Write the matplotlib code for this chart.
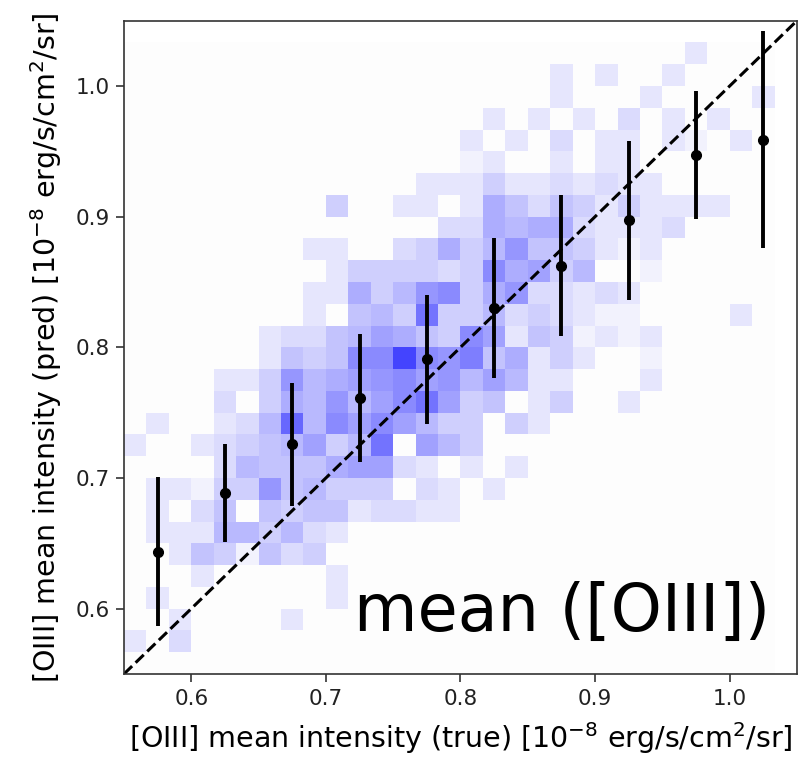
import numpy as np
import matplotlib
matplotlib.use("Agg")
import matplotlib.pyplot as plt
from matplotlib.colors import LinearSegmentedColormap

# binned means of predicted vs true intensity
bin_centers = [0.575, 0.625, 0.675, 0.725, 0.775, 0.825, 0.875, 0.925, 0.975, 1.025]
pred_mean = [0.6435, 0.6887, 0.7257, 0.7615, 0.7908, 0.8302, 0.8626, 0.8971, 0.9470, 0.9590]
pred_std = [0.057, 0.0376, 0.0469, 0.049, 0.0494, 0.0535, 0.0543, 0.0608, 0.0488, 0.083]

# 2d histogram counts, 29x29 bins of width 1/60 starting at 0.55
# rows listed from top (highest y) to bottom
hist_rows_top = [
    {25: 2},
    {19: 2, 21: 2, 24: 2},
    {19: 2, 23: 2, 28: 2},
    {16: 2, 18: 2, 20: 2, 22: 3, 24: 2, 26: 2},
    {15: 2, 17: 2, 19: 3, 21: 2, 22: 2, 24: 2, 25: 1, 27: 2},
    {15: 1, 16: 2, 19: 2, 21: 2, 22: 2},
    {13: 2, 14: 2, 15: 2, 16: 4, 17: 2, 18: 2, 19: 3, 20: 2, 21: 3, 22: 2, 23: 2},
    {9: 4, 12: 2, 13: 2, 15: 2, 16: 7, 17: 5, 18: 3, 19: 5, 20: 4, 21: 2, 22: 4,
     23: 2, 24: 2, 25: 2, 26: 2},
    {14: 3, 15: 3, 16: 7, 17: 6, 18: 7, 19: 7, 20: 3, 21: 2, 22: 2, 23: 2, 24: 3},
    {8: 2, 9: 2, 12: 3, 13: 4, 14: 7, 15: 4, 16: 6, 17: 9, 18: 5, 19: 5, 20: 4,
     21: 2, 22: 1, 23: 2},
    {9: 2, 10: 4, 11: 4, 12: 4, 13: 4, 14: 3, 15: 4, 16: 10, 17: 7, 18: 8, 19: 4,
     20: 6, 23: 1},
    {8: 2, 9: 2, 10: 7, 11: 4, 12: 6, 13: 9, 14: 10, 15: 4, 16: 7, 17: 9, 18: 3,
     19: 3, 20: 2, 21: 3, 22: 2},
    {8: 2, 10: 5, 11: 6, 12: 4, 13: 12, 14: 4, 15: 4, 16: 6, 17: 3, 18: 4, 19: 3,
     20: 2, 21: 1, 22: 1, 27: 2},
    {6: 2, 7: 3, 8: 3, 9: 5, 10: 6, 11: 8, 12: 7, 13: 5, 14: 4, 15: 10, 16: 8,
     17: 2, 18: 5, 19: 4, 20: 1, 21: 2, 22: 1, 23: 2},
    {6: 2, 7: 5, 8: 4, 9: 5, 10: 10, 11: 10, 12: 16, 13: 10, 14: 9, 15: 11, 16: 5,
     17: 7, 18: 2, 19: 4, 20: 2, 23: 1},
    {4: 2, 5: 2, 6: 4, 7: 9, 8: 6, 9: 7, 10: 8, 11: 9, 12: 10, 13: 8, 14: 9,
     15: 6, 16: 8, 17: 6, 18: 2, 19: 2, 23: 2},
    {4: 3, 6: 4, 7: 7, 8: 6, 9: 9, 10: 6, 11: 8, 12: 10, 13: 12, 14: 8, 15: 4,
     16: 5, 18: 2, 19: 4, 22: 2},
    {1: 2, 4: 2, 5: 3, 6: 6, 7: 13, 8: 6, 9: 10, 10: 8, 11: 10, 12: 8, 13: 6,
     14: 4, 15: 4, 17: 4, 18: 2},
    {0: 2, 3: 2, 4: 3, 5: 4, 6: 5, 7: 6, 8: 8, 9: 4, 10: 6, 11: 12, 13: 8, 14: 6, 15: 4},
    {4: 3, 5: 6, 6: 5, 7: 5, 8: 5, 9: 7, 10: 8, 11: 8, 12: 3, 13: 2, 15: 2, 17: 2},
    {1: 2, 2: 2, 3: 1, 4: 4, 5: 4, 6: 9, 7: 5, 8: 6, 9: 4, 10: 4, 11: 4, 13: 3,
     14: 2, 16: 2},
    {1: 2, 3: 3, 4: 5, 6: 5, 7: 4, 8: 5, 9: 5, 10: 2, 11: 3, 12: 3, 13: 2, 14: 2},
    {1: 2, 2: 2, 3: 2, 4: 6, 5: 6, 6: 4, 7: 6, 8: 3, 9: 2},
    {2: 2, 3: 5, 4: 4, 5: 1, 6: 5, 7: 3, 8: 4},
    {3: 2, 9: 2},
    {1: 2, 9: 2},
    {2: 2, 7: 2},
    {0: 2, 2: 3},
    {},
]

nbins = 29
edges = 0.55 + np.arange(nbins + 1) / 60.0
counts = np.zeros((nbins, nbins))
for i, row in enumerate(hist_rows_top):
    for col, val in row.items():
        counts[nbins - 1 - i, col] = val

cmap = LinearSegmentedColormap.from_list("wb", ["#fdfdfd", "#0000ff"])

fig = plt.figure(figsize=(8.12, 7.6), dpi=100)
ax = fig.add_axes([0.1527, 0.1132, 0.8288, 0.8596])

ax.pcolormesh(edges, edges, counts, cmap=cmap, vmin=0, vmax=22)
ax.plot([0.55, 1.05], [0.55, 1.05], "k--", lw=2.2)
ax.errorbar(bin_centers, pred_mean, yerr=pred_std, fmt="o", color="k",
            ms=7, elinewidth=2.8, capsize=0)

ax.set_xlim(0.55, 1.05)
ax.set_ylim(0.55, 1.05)
ax.set_xticks([0.6, 0.7, 0.8, 0.9, 1.0])
ax.set_yticks([0.6, 0.7, 0.8, 0.9, 1.0])
ax.tick_params(labelsize=15.5, length=5.5, width=1.2, pad=5, color="#333333",
               labelcolor="#222222")
for s in ax.spines.values():
    s.set_color("#333333")
    s.set_linewidth(1.2)

ax.set_xlabel("[OIII] mean intensity (true) [10$^{-8}$ erg/s/cm$^2$/sr]", fontsize=20.5, labelpad=8)
ax.set_ylabel("[OIII] mean intensity (pred) [10$^{-8}$ erg/s/cm$^2$/sr]", fontsize=20.5, labelpad=8)

ax.text(0.96, 0.066, "mean ([OIII])", transform=ax.transAxes, fontsize=47,
        ha="right", va="baseline")

fig.savefig("out.png", dpi=100)
